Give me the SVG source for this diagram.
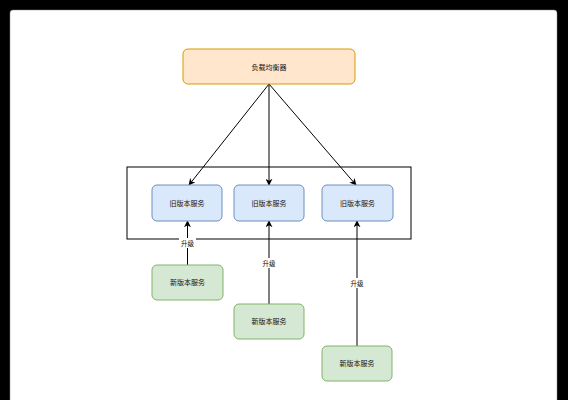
<svg xmlns="http://www.w3.org/2000/svg" width="568" height="400" viewBox="0 0 568 400">
<defs>
<marker id="arr" viewBox="0 0 10 10" refX="9" refY="5" markerWidth="7" markerHeight="7" markerUnits="userSpaceOnUse" orient="auto">
<path d="M0,0 L10,5 L0,10 L3,5 Z" fill="#000"/>
</marker>
</defs>
<style>
text{font-family:"Liberation Sans","Noto Sans CJK SC",sans-serif;fill:#111;text-anchor:middle;dominant-baseline:central}
.n{font-size:7px}
.lb{fill:#ffe6cc;stroke:#d79b00;stroke-width:1}
.old{fill:#dae8fc;stroke:#6c8ebf;stroke-width:1}
.new{fill:#d5e8d4;stroke:#82b366;stroke-width:1}
.e{stroke:#000;stroke-width:1;fill:none;marker-end:url(#arr)}
.lbl{font-size:6.5px}
</style>
<rect x="0" y="0" width="568" height="400" fill="#000"/>
<rect x="10" y="10" width="547" height="400" rx="3" fill="#fff" stroke="#888" stroke-width="0.5"/>
<g id="container"><rect x="127" y="167" width="284" height="72" fill="none" stroke="#000" stroke-width="1"/></g>
<g id="connectors">
<line class="e" x1="269" y1="84" x2="189" y2="185"/>
<line class="e" x1="269" y1="84" x2="269" y2="185"/>
<line class="e" x1="269" y1="84" x2="356" y2="185"/>
<line class="e" x1="187.5" y1="265" x2="187.5" y2="221"/>
<line class="e" x1="269" y1="304" x2="269" y2="221"/>
<line class="e" x1="357" y1="346" x2="357" y2="221"/>
<rect x="179" y="238" width="17" height="10" fill="#fff"/>
<text class="lbl" x="187.5" y="243">升级</text>
<rect x="261" y="258" width="17" height="10" fill="#fff"/>
<text class="lbl" x="269" y="263">升级</text>
<rect x="349" y="278" width="17" height="10" fill="#fff"/>
<text class="lbl" x="357" y="283">升级</text>
</g>
<g id="lb"><rect class="lb" x="183" y="49" width="172" height="35" rx="5"/><text class="n" x="269" y="67">负载均衡器</text></g>
<g id="old1"><rect class="old" x="152" y="185" width="70" height="36" rx="5"/><text class="n" x="187" y="203">旧版本服务</text></g>
<g id="old2"><rect class="old" x="234" y="185" width="70" height="36" rx="5"/><text class="n" x="269" y="203">旧版本服务</text></g>
<g id="old3"><rect class="old" x="322" y="185" width="71" height="36" rx="5"/><text class="n" x="357.5" y="203">旧版本服务</text></g>
<g id="new1"><rect class="new" x="152" y="265" width="71" height="35" rx="5"/><text class="n" x="187.5" y="282.5">新版本服务</text></g>
<g id="new2"><rect class="new" x="234" y="304" width="70" height="35" rx="5"/><text class="n" x="269" y="321.5">新版本服务</text></g>
<g id="new3"><rect class="new" x="322" y="346" width="70" height="35" rx="5"/><text class="n" x="357" y="363.5">新版本服务</text></g>
</svg>
